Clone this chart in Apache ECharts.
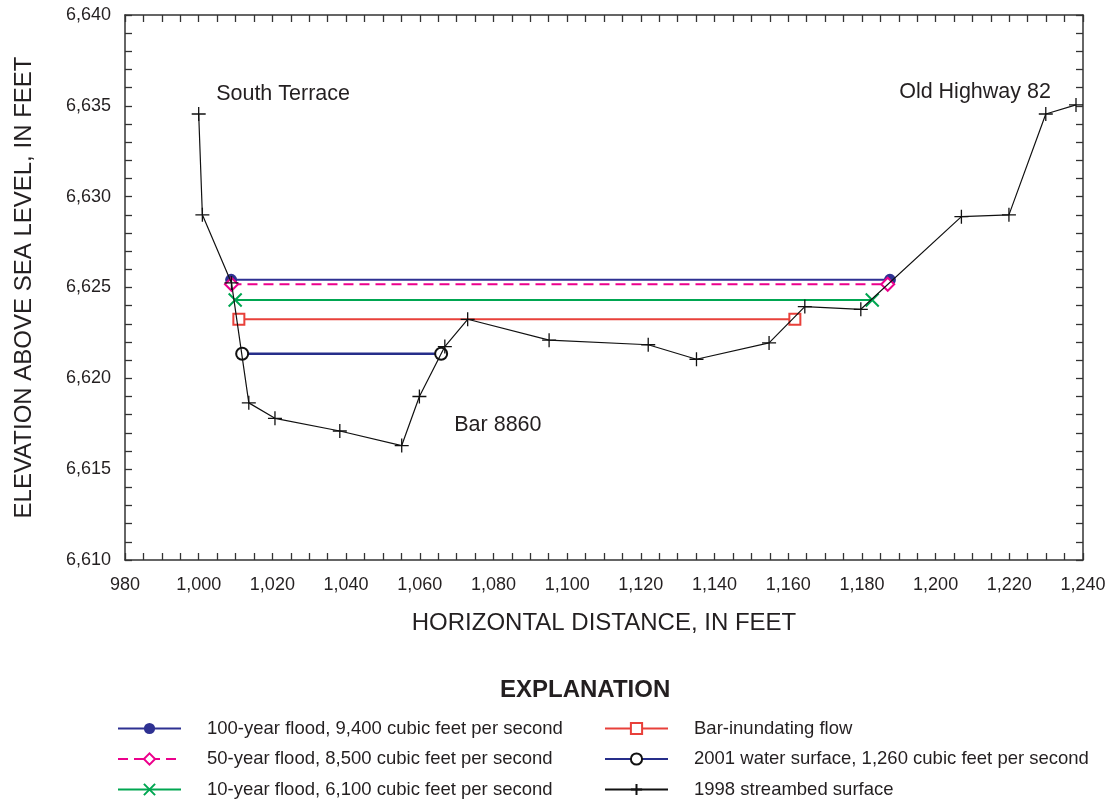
<!DOCTYPE html>
<html>
<head>
<meta charset="utf-8">
<script src="https://cdn.jsdelivr.net/npm/echarts@6/dist/echarts.min.js"></script>
<style>
html,body{margin:0;padding:0;background:#fff;}
#chart{width:1110px;height:800px;}
</style>
</head>
<body>
<div id="chart"></div>
<script>
// ---- data ----
const streambedX = [1000, 1001, 1008.9, 1013.6, 1020.7, 1038.3, 1055.1, 1059.9, 1066.8, 1073.0, 1095.1, 1122.0, 1135.1, 1154.8, 1164.5, 1179.7, 1207.0, 1219.9, 1229.9, 1238.1];
const streambedY = [6634.55, 6629.0, 6625.25, 6618.65, 6617.8, 6617.1, 6616.3, 6619.0, 6621.75, 6623.25, 6622.1, 6621.85, 6621.05, 6621.95, 6623.95, 6623.8, 6628.9, 6629.0, 6634.55, 6635.05];

const flood100X = [1008.8, 1187.6];
const flood100Y = [6625.42, 6625.42];
const flood50X = [1008.9, 1187.0];
const flood50Y = [6625.18, 6625.18];
const flood10X = [1009.9, 1182.8];
const flood10Y = [6624.31, 6624.31];
const barFlowX = [1010.9, 1161.8];
const barFlowY = [6623.25, 6623.25];
const water2001X = [1011.8, 1065.8];
const water2001Y = [6621.35, 6621.35];

const seriesNames = [
  '100-year flood, 9,400 cubic feet per second',
  '50-year flood, 8,500 cubic feet per second',
  '10-year flood, 6,100 cubic feet per second',
  'Bar-inundating flow',
  '2001 water surface, 1,260 cubic feet per second',
  '1998 streambed surface'
];

const annotationText = ['South Terrace', 'Old Highway 82', 'Bar 8860'];
const annotationX = [1022.9, 1210.7, 1081.2];
const annotationY = [6635.65, 6635.76, 6617.44];

const xTicks = { min: 980, max: 1240, interval: 20 };
const yTicks = { min: 6610, max: 6640, interval: 5 };

// ---- helpers ----
const pair = (xs, ys) => xs.map((x, i) => [x, ys[i]]);
const fmt = v => String(v).replace(/\B(?=(\d{3})+(?!\d))/g, ',');
const FONT = '"Liberation Sans", Arial, sans-serif';
const TXT = '#231f20';
const AX = '#333';

const navy = '#2e3192';
const magenta = '#ec008c';
const green = '#00a651';
const red = '#e8403a';

const crossPath = 'path://M0,0L10,10M10,0L0,10';
const plusPath = 'path://M5,0L5,10M0,5L10,5';

const tickStyle = { color: AX, width: 1.3 };

function frameAxis(extra, labelMargin, minorSplit) {
  return Object.assign({
    type: 'value',
    axisLine: { show: true, onZero: false, lineStyle: { color: AX, width: 1.5 } },
    axisTick: { show: true, inside: true, length: 7, lineStyle: tickStyle },
    minorTick: { show: true, splitNumber: minorSplit, length: 7, lineStyle: tickStyle },
    splitLine: { show: false },
    minorSplitLine: { show: false },
    axisLabel: labelMargin != null
      ? { show: true, color: TXT, fontFamily: FONT, fontSize: 18, margin: labelMargin, formatter: fmt }
      : { show: false }
  }, extra);
}

const chart = echarts.init(document.getElementById('chart'), null, { renderer: 'canvas' });

const legendCommon = {
  orient: 'vertical', top: 719, itemWidth: 63, itemHeight: 14, itemGap: 11.5,
  padding: 0, height: 110,
  textStyle: { fontFamily: FONT, fontSize: 18.5, color: TXT, padding: [0, 0, 0, 21], lineHeight: 16 },
  selectedMode: false
};

const option = {
  backgroundColor: '#fff',
  animation: false,
  textStyle: { fontFamily: FONT, color: TXT },
  title: {
    text: 'EXPLANATION',
    left: 500, top: 678, padding: 0,
    textStyle: { fontFamily: FONT, fontWeight: 'bold', fontSize: 24, color: TXT }
  },
  grid: { left: 125, right: 27, top: 15, bottom: 240, containLabel: false },
  xAxis: [
    frameAxis({
      position: 'bottom', min: xTicks.min, max: xTicks.max, interval: xTicks.interval,
      name: 'HORIZONTAL DISTANCE, IN FEET', nameLocation: 'middle', nameGap: 51,
      nameTextStyle: { fontFamily: FONT, fontSize: 24, color: TXT }
    }, 16, 4),
    frameAxis({ position: 'top', min: xTicks.min, max: xTicks.max, interval: xTicks.interval }, null, 4)
  ],
  yAxis: [
    frameAxis({
      position: 'left', min: yTicks.min, max: yTicks.max, interval: yTicks.interval,
      name: 'ELEVATION ABOVE SEA LEVEL, IN FEET', nameLocation: 'middle', nameGap: 89,
      nameTextStyle: { fontFamily: FONT, fontSize: 24, color: TXT }
    }, 14, 5),
    frameAxis({ position: 'right', min: yTicks.min, max: yTicks.max, interval: yTicks.interval }, null, 5)
  ],
  legend: [
    Object.assign({ left: 117, data: seriesNames.slice(0, 3) }, legendCommon),
    Object.assign({ left: 604, data: seriesNames.slice(3) }, legendCommon)
  ],
  series: [
    {
      name: seriesNames[4], type: 'line', data: pair(water2001X, water2001Y),
      lineStyle: { color: '#262e8a', width: 2.5 },
      symbol: 'emptyCircle', symbolSize: 12,
      itemStyle: { color: '#111', borderColor: '#111', borderWidth: 2.5 }, z: 3
    },
    {
      name: seriesNames[3], type: 'line', data: pair(barFlowX, barFlowY),
      lineStyle: { color: red, width: 2 },
      symbol: 'emptyRect', symbolSize: 11,
      itemStyle: { color: red, borderColor: red, borderWidth: 1.8 }, z: 3
    },
    {
      name: seriesNames[2], type: 'line', data: pair(flood10X, flood10Y),
      lineStyle: { color: green, width: 2 },
      symbol: crossPath, symbolSize: 13,
      itemStyle: { color: green, borderColor: green, borderWidth: 2 }, z: 3
    },
    {
      name: seriesNames[1], type: 'line', data: pair(flood50X, flood50Y),
      lineStyle: { color: magenta, width: 2, type: [10, 6] },
      symbol: 'emptyDiamond', symbolSize: 13,
      itemStyle: { color: magenta, borderColor: magenta, borderWidth: 2 }, z: 4
    },
    {
      name: seriesNames[0], type: 'line', data: pair(flood100X, flood100Y),
      lineStyle: { color: navy, width: 2 },
      symbol: 'circle', symbolSize: 12,
      itemStyle: { color: navy }, z: 3
    },
    {
      name: seriesNames[5], type: 'line', data: pair(streambedX, streambedY),
      lineStyle: { color: '#111', width: 1.2 },
      symbol: plusPath, symbolSize: 14,
      itemStyle: { color: '#111', borderColor: '#111', borderWidth: 1.3 }, z: 5
    },
    {
      name: 'annotations', type: 'scatter', symbolSize: 0, silent: true,
      data: annotationText.map((t, i) => ({ value: [annotationX[i], annotationY[i]], name: t })),
      label: {
        show: true, position: 'inside', formatter: p => p.name,
        fontFamily: FONT, fontSize: 21.5, color: TXT, textBorderWidth: 0, opacity: 1
      },
      itemStyle: { color: TXT, opacity: 1 },
      z: 6
    }
  ]
};
chart.setOption(option);
</script>
</body>
</html>
